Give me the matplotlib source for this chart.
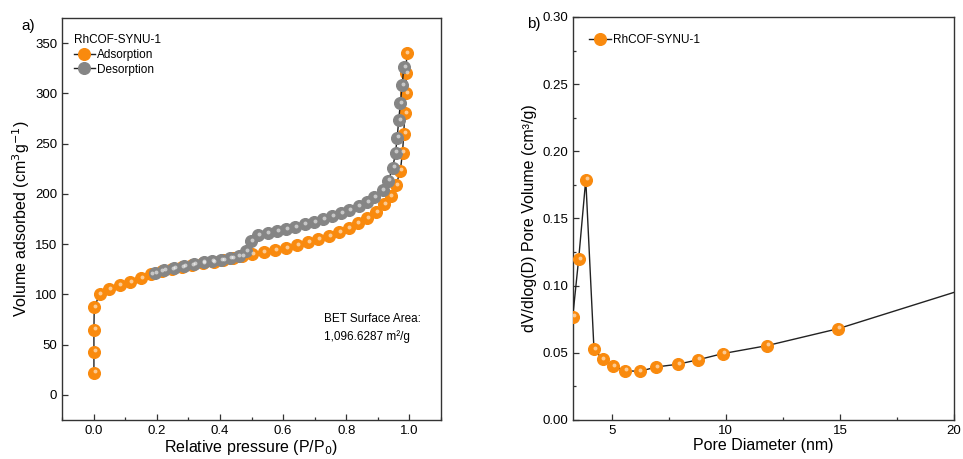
import matplotlib
matplotlib.use("Agg")
import matplotlib.pyplot as plt
from matplotlib.transforms import offset_copy
from matplotlib.ticker import MultipleLocator

plt.rcParams['font.family'] = ['Liberation Sans', 'DejaVu Sans']

# isotherm (a)
ads_p = [0.001, 0.001, 0.001, 0.002, 0.019, 0.05, 0.082, 0.116, 0.149, 0.182, 0.215, 0.248, 0.28,
         0.313, 0.346, 0.38, 0.41, 0.44, 0.47, 0.502, 0.538, 0.574, 0.609, 0.644, 0.678, 0.712,
         0.746, 0.777, 0.807, 0.836, 0.866, 0.894, 0.92, 0.94, 0.958, 0.971, 0.978, 0.982, 0.985,
         0.988, 0.99, 0.991]
ads_v = [22, 43, 65, 87, 100, 105, 109, 112, 116, 120, 123, 125, 127, 129, 131, 132, 134, 136, 138,
         140, 142, 144, 146, 149, 152, 155, 158, 162, 166, 171, 176, 182, 190, 198, 209, 223, 241,
         260, 280, 300, 320, 340]
des_p = [0.982, 0.977, 0.971, 0.966, 0.961, 0.956, 0.947, 0.933, 0.915, 0.889, 0.865, 0.839, 0.810,
         0.783, 0.754, 0.727, 0.697, 0.668, 0.638, 0.610, 0.580, 0.551, 0.521, 0.499, 0.483, 0.459,
         0.431, 0.403, 0.375, 0.348, 0.317, 0.286, 0.254, 0.224, 0.195]
des_v = [326, 308, 290, 273, 256, 241, 226, 213, 204, 197, 192, 188, 184, 181, 178, 175, 172, 170,
         167, 165, 163, 161, 159, 153, 143, 138, 136, 134, 133, 132, 130, 128, 126, 124, 121]

# pore size distribution (b)
pore_d = [3.29, 3.55, 3.86, 4.22, 4.6, 5.07, 5.57, 6.22, 6.96, 7.9, 8.8, 9.86, 11.79, 14.93, 20.0]
pore_v = [0.077, 0.120, 0.179, 0.0526, 0.0452, 0.040, 0.0367, 0.0362, 0.0395, 0.0415, 0.0449,
          0.0494, 0.0553, 0.068, 0.095]

orange = '#F98A0E'
grey = '#858585'
ms = 8.4

fig = plt.figure(figsize=(9.63, 4.59), dpi=100)
ax1 = fig.add_axes([0.0644, 0.085, 0.3936, 0.876])
ax2 = fig.add_axes([0.595, 0.085, 0.3957, 0.878])


def balls(ax, x, y, c, label, every=None):
    ax.plot(x, y, '-o', color='#222222', lw=1, mfc=c, mec=c, ms=ms, label=label,
            markevery=every, zorder=3)
    hl = offset_copy(ax.transData, fig=fig, x=0.6, y=0.9, units='points')
    xs, ys = (x, y) if every is None else (x[every], y[every])
    ax.plot(xs, ys, 'o', transform=hl, ms=2.8, mfc='white', mec='none', alpha=0.55, zorder=4)


balls(ax1, ads_p, ads_v, orange, 'Adsorption')
balls(ax1, des_p, des_v, grey, 'Desorption')
ax1.set_xlim(-0.1, 1.1)
ax1.set_ylim(-25, 375)
ax1.xaxis.set_major_locator(MultipleLocator(0.2))
ax1.xaxis.set_minor_locator(MultipleLocator(0.1))
ax1.yaxis.set_major_locator(MultipleLocator(50))
ax1.set_xlabel('Relative pressure (P/P$_0$)', fontsize=11.5, labelpad=1)
ax1.set_ylabel('Volume adsorbed (cm$^3$g$^{-1}$)', fontsize=11.5, labelpad=2)
leg = ax1.legend(loc='upper left', title='RhCOF-SYNU-1', frameon=False, fontsize=8.5,
                 title_fontsize=8.5, handlelength=1.8, handletextpad=0.2, borderaxespad=0.6,
                 labelspacing=0.25, bbox_to_anchor=(0.0, 0.99))
leg._legend_box.align = 'left'
ax1.text(0.73, 81, 'BET Surface Area:\n1,096.6287 m²/g', fontsize=8.5, va='top', linespacing=1.5)
fig.text(0.022, 0.935, 'a)', fontsize=11)

balls(ax2, pore_d, pore_v, orange, 'RhCOF-SYNU-1', every=slice(0, -1))
ax2.set_xlim(3.3, 20)
ax2.set_ylim(0, 0.30)
ax2.xaxis.set_major_locator(MultipleLocator(5))
ax2.xaxis.set_minor_locator(MultipleLocator(2.5))
ax2.yaxis.set_major_locator(MultipleLocator(0.05))
ax2.yaxis.set_minor_locator(MultipleLocator(0.025))
ax2.yaxis.set_major_formatter(matplotlib.ticker.FormatStrFormatter('%.2f'))
ax2.set_xlabel('Pore Diameter (nm)', fontsize=11.5, labelpad=1)
ax2.set_ylabel('dV/dlog(D) Pore Volume (cm³/g)', fontsize=11.5, labelpad=4)
ax2.legend(loc='upper left', frameon=False, fontsize=8.5, handlelength=1.8, handletextpad=0.2,
           bbox_to_anchor=(0.015, 0.985))
fig.text(0.547, 0.94, 'b)', fontsize=11)

for ax in (ax1, ax2):
    ax.tick_params(which='both', direction='in', labelsize=9.5, width=0.9, color='#333333')
    ax.tick_params(which='major', length=4)
    ax.tick_params(which='minor', length=2.5)
    for s in ax.spines.values():
        s.set_linewidth(1.0)
        s.set_color('#333333')

fig.savefig('out.png', dpi=100)
